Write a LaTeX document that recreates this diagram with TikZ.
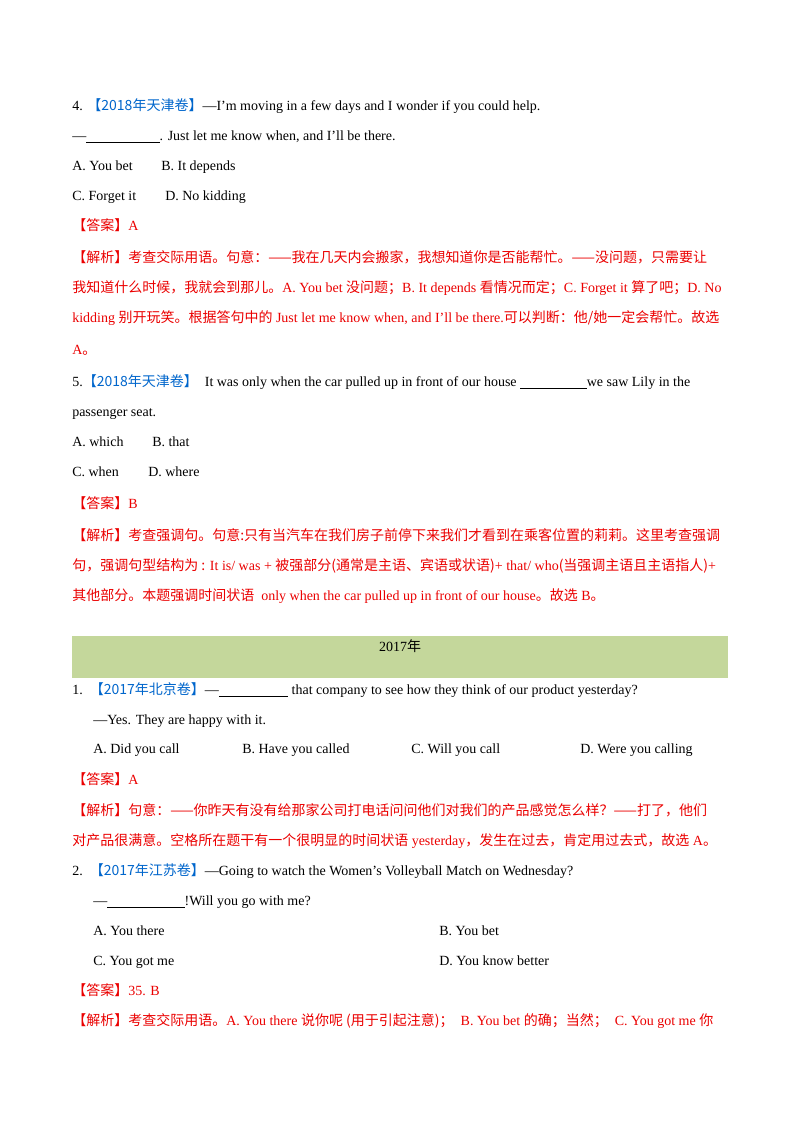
\documentclass[tikz,border=0pt]{standalone}
\usepackage{fontspec}
\setmainfont{Liberation Serif}
\newfontfamily\cjk{Noto Sans CJK SC}
\newcommand\zh[1]{{\cjk #1}}
\newcommand\blk[1]{\rule[-1.5pt]{#1pt}{0.5pt}}
\definecolor{qblue}{RGB}{0,102,204}
\definecolor{ared}{RGB}{235,0,0}
\definecolor{band}{RGB}{196,215,155}
\begin{document}
\begin{tikzpicture}[x=0.75pt,y=-0.75pt,
  t/.style={anchor=base west,inner sep=0pt,yshift=-3.5pt,font=\fontsize{10.5}{12}\selectfont},
  r/.style={t,text=ared}]
\useasboundingbox[fill=white] (0,0) rectangle (800,1132);
\fill[band] (72,636) rectangle (728,678);
\node[t] (l1) at (72,106) {4. \textcolor{qblue}{\zh{【2018年天津卷】}}—I'm moving in a few days and I wonder if you could help.};
\node[t] (l2) at (72,136) {—\blk{55}. Just let me know when, and I'll be there.};
\node[t] (l3a) at (72,166) {A. You bet};
\node[t] (l3b) at (161,166) {B. It depends};
\node[t] (l4a) at (72,196) {C. Forget it};
\node[t] (l4b) at (165,196) {D. No kidding};
\node[r] (l5) at (72,226) {\zh{【答案】}A};
\node[r] (l6) at (72,258) {\zh{【解析】考查交际用语。句意：——我在几天内会搬家，我想知道你是否能帮忙。——没问题，只需要让}};
\node[r] (l7) at (72,288) {\zh{我知道什么时候，我就会到那儿。}A. You bet \zh{没问题；}B. It depends \zh{看情况而定；}C. Forget it \zh{算了吧；}D. No};
\node[r] (l8) at (72,318) {kidding \zh{别开玩笑。根据答句中的} Just let me know when, and I’ll be there.\zh{可以判断：他/她一定会帮忙。故选}};
\node[r] (l9) at (72,350) {A\zh{。}};
\node[t] (l10) at (72,382) {5.\textcolor{qblue}{\zh{【2018年天津卷】}}\ \ It was only when the car pulled up in front of our house \blk{50}we saw Lily in the};
\node[t] (l11) at (72,412) {passenger seat.};
\node[t] (l12a) at (72,442) {A. which};
\node[t] (l12b) at (152,442) {B. that};
\node[t] (l13a) at (72,472) {C. when};
\node[t] (l13b) at (148,472) {D. where};
\node[r] (l14) at (72,504) {\zh{【答案】}B};
\node[r] (l15) at (72,536) {\zh{【解析】考查强调句。句意:只有当汽车在我们房子前停下来我们才看到在乘客位置的莉莉。这里考查强调}};
\node[r] (l16) at (72,566) {\zh{句，强调句型结构为 :} It is/ was + \zh{被强部分(通常是主语、宾语或状语)}+ that/ who\zh{(当强调主语且主语指人)}+};
\node[r] (l17) at (72,596) {\zh{其他部分。本题强调时间状语}\ \ only when the car pulled up in front of our house\zh{。故选} B\zh{。}};
\node[t,anchor=base] (yr) at (400,647) {2017\zh{年}};
\node[t] (m1) at (72,690) {1.\ \ \textcolor{qblue}{\zh{【2017年北京卷】}}—\blk{52} that company to see how they think of our product yesterday?};
\node[t] (m2) at (93,720) {—Yes. They are happy with it.};
\node[t] (m3a) at (93,749) {A. Did you call};
\node[t] (m3b) at (242,749) {B. Have you called};
\node[t] (m3c) at (411,749) {C. Will you call};
\node[t] (m3d) at (580,749) {D. Were you calling};
\node[r] (m4) at (72,780) {\zh{【答案】}A};
\node[r] (m5) at (72,811) {\zh{【解析】句意：——你昨天有没有给那家公司打电话问问他们对我们的产品感觉怎么样？——打了，他们}};
\node[r] (m6) at (72,841) {\zh{对产品很满意。空格所在题干有一个很明显的时间状语} yesterday\zh{，发生在过去，肯定用过去式，故选} A\zh{。}};
\node[t] (m7) at (72,871) {2.\ \ \textcolor{qblue}{\zh{【2017年江苏卷】}}—Going to watch the Women’s Volleyball Match on Wednesday?};
\node[t] (m8) at (93,901) {—\blk{58}!Will you go with me?};
\node[t] (m9a) at (93,931) {A. You there};
\node[t] (m9b) at (439,931) {B. You bet};
\node[t] (m10a) at (93,961) {C. You got me};
\node[t] (m10b) at (439,961) {D. You know better};
\node[r] (m11) at (72,991) {\zh{【答案】}35. B};
\node[r] (m12) at (72,1021) {\zh{【解析】考查交际用语。}A. You there \zh{说你呢 (用于引起注意)；}\ \ B. You bet \zh{的确；当然；}\ \ C. You got me \zh{你}};
\end{tikzpicture}
\end{document}
